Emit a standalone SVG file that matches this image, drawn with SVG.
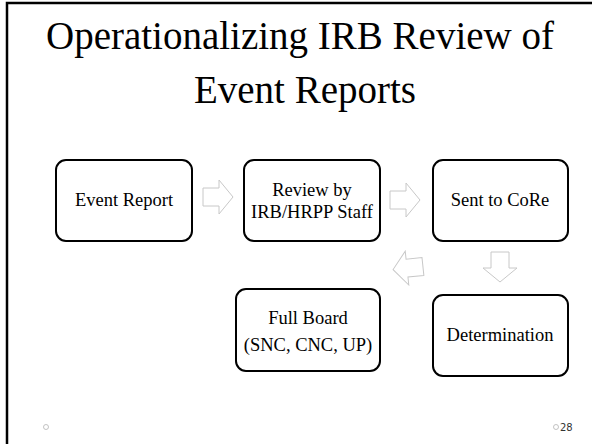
<svg xmlns="http://www.w3.org/2000/svg" width="592" height="444" viewBox="0 0 592 444">
<style>
.box{fill:#fff;stroke:#000;stroke-width:2}
.t{font-family:"Liberation Serif","Times New Roman",serif;font-size:18.5px;fill:#000;text-anchor:middle}
.title{font-family:"Liberation Serif","Times New Roman",serif;font-size:39px;fill:#000;text-anchor:middle}
.arr{fill:#fff;stroke:#c8c8c8;stroke-width:1}
.dot{fill:none;stroke:#b4b4b4;stroke-width:0.8}
</style>
<defs>
<polygon id="ra" points="-15,-9 1,-9 1,-17 15,0 1,17 1,9 -15,9"/>
</defs>
<rect x="0" y="0" width="592" height="444" fill="#fff"/>
<path d="M7,444 V3 H592" fill="none" stroke="#000" stroke-width="2.5"/>
<g id="title">
<text class="title" x="300" y="49">Operationalizing IRB Review of</text>
<text class="title" x="305" y="103">Event Reports</text>
</g>
<g id="connectors">
<use href="#ra" class="arr" transform="translate(218,197)"/>
<use href="#ra" class="arr" transform="translate(405,200)"/>
<use href="#ra" class="arr" transform="translate(500,267) rotate(90)"/>
<use href="#ra" class="arr" transform="translate(408,268) rotate(174)"/>
</g>
<g id="event-report">
<rect class="box" x="56" y="160" width="136" height="81" rx="10"/>
<text class="t" x="124" y="206">Event Report</text>
</g>
<g id="review">
<rect class="box" x="244" y="160" width="136" height="81" rx="10"/>
<text class="t" x="312" y="196">Review by</text>
<text class="t" x="312" y="218">IRB/HRPP Staff</text>
</g>
<g id="sent-core">
<rect class="box" x="433" y="160" width="135" height="81" rx="10"/>
<text class="t" x="500" y="206">Sent to CoRe</text>
</g>
<g id="determination">
<rect class="box" x="433" y="295" width="135" height="81" rx="10"/>
<text class="t" x="500" y="341">Determination</text>
</g>
<g id="full-board">
<rect class="box" x="236" y="289" width="144" height="82" rx="10"/>
<text class="t" x="308" y="324">Full Board</text>
<text class="t" x="308" y="351">(SNC, CNC, UP)</text>
</g>
<g id="footer">
<circle class="dot" cx="46" cy="427" r="2.5"/>
<circle class="dot" cx="556" cy="427" r="2.5"/>
<text x="560" y="431" font-family="'DejaVu Sans',sans-serif" font-size="10" fill="#333">28</text>
</g>
</svg>
